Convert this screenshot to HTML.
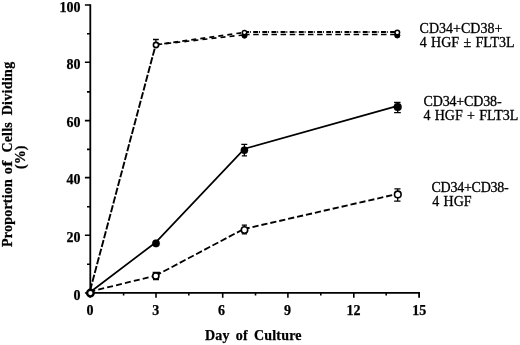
<!DOCTYPE html>
<html><head><meta charset="utf-8">
<style>
html,body{margin:0;padding:0;background:#fff;}
svg{display:block;will-change:transform;}
.tl{font-family:"Liberation Serif",serif;font-weight:bold;font-size:14px;fill:#000;stroke:#000;stroke-width:0.25px;}
.lg{font-family:"Liberation Serif",serif;font-size:14px;fill:#000;stroke:#000;stroke-width:0.3px;}
</style></head>
<body>
<svg width="520" height="345" viewBox="0 0 520 345">
<rect width="520" height="345" fill="#fff"/>
<!-- axes -->
<g stroke="#000" stroke-width="1.8" fill="none">
<path d="M90.3,4.2 V292.9 H419.1 V297.8"/>
</g>
<g stroke="#000" stroke-width="1.6" fill="none">
<!-- y major ticks -->
<path d="M84.9,5H90 M84.9,62.3H90 M84.9,120.6H90 M84.9,177.6H90 M84.9,235.3H90 M84.9,293H90"/>
<!-- y minor ticks -->
<path d="M87,33.8H90 M87,91.9H90 M87,149.4H90 M87,206.8H90 M87,264.3H90"/>
<!-- x major ticks -->
<path d="M90.1,293V297.8 M156,293V297.8 M222.7,293V297.8 M287.9,293V297.8 M353.8,293V297.8"/>
<!-- x minor ticks -->
<path d="M123.6,293V295.6 M188.8,293V295.6 M255.5,293V295.6 M320.8,293V295.6 M386.2,293V295.6"/>
</g>
<!-- y labels -->
<g class="tl" text-anchor="end">
<text x="80.5" y="11.5">100</text>
<text x="80.5" y="69">80</text>
<text x="80.5" y="126.7">60</text>
<text x="80.5" y="184.3">40</text>
<text x="80.5" y="241.9">20</text>
<text x="80.5" y="299.5">0</text>
</g>
<!-- x labels -->
<g class="tl" text-anchor="middle">
<text x="90" y="314.6">0</text>
<text x="155.8" y="314.6">3</text>
<text x="221.6" y="314.6">6</text>
<text x="287.4" y="314.6">9</text>
<text x="353.6" y="314.6">12</text>
<text x="419.2" y="314.6">15</text>
</g>
<!-- axis titles -->
<text class="tl" x="205" y="339.8" style="word-spacing:2.4px;letter-spacing:0.2px">Day of Culture</text>
<g transform="translate(11.8,0) rotate(-90)" class="tl">
<text x="-246.9" y="0" style="letter-spacing:0.2px">Proportion</text>
<text x="-174.3" y="0">o</text>
<text transform="translate(-166.8,0) scale(1.3,1)" x="0" y="0">f</text>
<text x="-152.5" y="0" style="letter-spacing:0.15px">Cells</text>
<text x="-115.3" y="0" style="letter-spacing:0.3px">Dividing</text>
</g>
<g transform="translate(25.4,0) rotate(-90)" class="tl">
<text x="-169" y="0">(%)</text>
</g>

<!-- series lines -->
<g fill="none" stroke="#000">
<!-- top series: origin -> day3 (two overlapping dashed lines) -->
<path d="M89.4,293 L155.6,45.2" stroke-width="1.9" stroke-dasharray="7.2 1.8" stroke-dashoffset="-2.7"/>
<!-- day3 -> day7 -->
<path d="M157,44.6 L243,32.6" stroke-width="1.7" stroke-dasharray="5 4.1" stroke-dashoffset="1.8"/>
<path d="M157,44.6 L243,35" stroke-width="1.7" stroke-dasharray="5 4.1" stroke-dashoffset="-0.2"/>
<!-- day7 -> day14 -->
<path d="M247,32 L395,32" stroke-width="1.9" stroke-dasharray="4.9 0.9 0.9 2.43" stroke-dashoffset="-6.2"/>
<path d="M247,34.6 L395,34.6" stroke-width="1.5" stroke-dasharray="5.5 3.63" stroke-dashoffset="-6.2"/>
<!-- solid series -->
<path d="M90,292.2 L156,242.2 L244.4,148.8 L397.7,105.9" stroke-width="1.7" stroke-linejoin="round"/>
<!-- dashed lower series -->
<path d="M90,291.6 L155.7,275.6" stroke-width="1.8" stroke-dasharray="6 3.15" stroke-dashoffset="-8.5"/>
<path d="M155.7,275.6 L244.5,228.6" stroke-width="1.8" stroke-dasharray="6.6 2.65" stroke-dashoffset="-8.7"/>
<path d="M244.5,228.9 L397.7,193.9" stroke-width="1.9" stroke-dasharray="6.2 2.94" stroke-dashoffset="-8.2"/>
</g>

<!-- error bars -->
<g stroke="#000" stroke-width="1.3" fill="none">
<path d="M155.9,44V39.5 M153,39.5H158.8"/>
<path d="M244.4,144.4V156 M241.3,144.4H247.3 M241.8,155.8H247"/>
<path d="M397.7,102.5V112.6 M394.1,102.5H400.5 M394.1,112.6H400.8"/>
<path d="M397.7,188.8V201.1 M394.4,188.8H400.5 M394.1,201.1H400.5"/>
<path d="M244.5,225.2V233.9 M241.8,225.2H247 M241.8,233.9H247"/>
<path d="M155.8,272.4V279.7 M152.7,272.4H160 M153,279.7H159"/>
</g>

<!-- markers -->
<g stroke="#000">
<circle cx="90.4" cy="293.1" r="3.3" fill="#fff" stroke-width="2.4"/>
<circle cx="156" cy="45" r="2.6" fill="#fff" stroke-width="1.6"/>
<circle cx="244.5" cy="35.6" r="2.6" fill="#000" stroke-width="1"/>
<circle cx="244.5" cy="32.6" r="2.2" fill="#fff" stroke-width="1.5"/>
<circle cx="397.3" cy="35.4" r="2.6" fill="#000" stroke-width="1"/>
<circle cx="397.3" cy="32.5" r="2.3" fill="#fff" stroke-width="1.5"/>
<circle cx="156" cy="243.4" r="3.8" fill="#000" stroke-width="0.2"/>
<circle cx="244.4" cy="150.3" r="3.7" fill="#000" stroke-width="0.2"/>
<circle cx="397.7" cy="107" r="4" fill="#000" stroke-width="0.2"/>
<circle cx="155.8" cy="276" r="3.1" fill="#fff" stroke-width="1.6"/>
<circle cx="244.5" cy="230" r="3.2" fill="#fff" stroke-width="1.6"/>
<circle cx="397.8" cy="194.4" r="3.3" fill="#fff" stroke-width="1.6"/>
</g>

<!-- legends -->
<g class="lg" style="word-spacing:0.8px">
<text x="419.6" y="33">CD34+CD38+</text>
<text x="419.8" y="46.5">4 HGF ± FLT3L</text>
<text x="423.5" y="106.3" style="letter-spacing:-0.15px">CD34+CD38-</text>
<text x="423.4" y="119.6">4 HGF + FLT3L</text>
<text x="431.5" y="192.2" style="letter-spacing:-0.25px">CD34+CD38-</text>
<text x="432.3" y="206">4 HGF</text>
</g>
</svg>
</body></html>
